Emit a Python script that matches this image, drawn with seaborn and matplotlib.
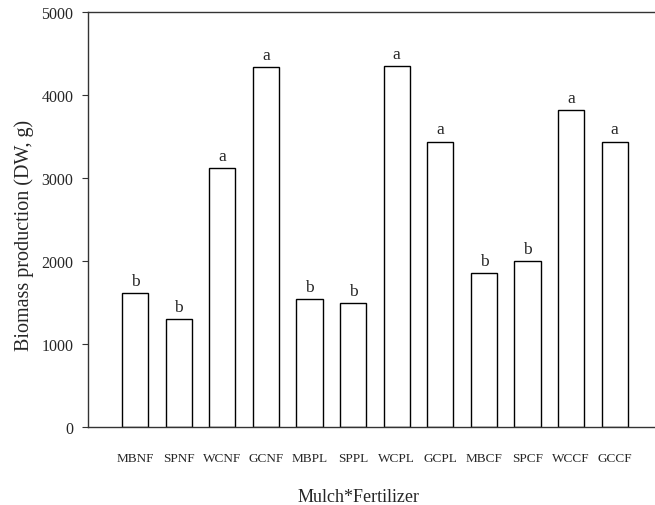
import matplotlib
matplotlib.use("Agg")
import matplotlib.pyplot as plt
import seaborn as sns
import pandas as pd

categories = ["MBNF", "SPNF", "WCNF", "GCNF", "MBPL", "SPPL", "WCPL", "GCPL",
              "MBCF", "SPCF", "WCCF", "GCCF"]
biomass = [1614, 1301, 3124, 4333, 1542, 1490, 4349, 3438, 1851, 2004, 3819, 3438]
letters = ["b", "b", "a", "a", "b", "b", "a", "a", "b", "b", "a", "a"]
yticks = [0, 1000, 2000, 3000, 4000, 5000]

sns.set_style("ticks")
plt.rcParams["font.family"] = ["Liberation Serif", "DejaVu Serif"]

df = pd.DataFrame({"cat": categories, "val": biomass})

fig = plt.figure(figsize=(6.55, 5.06), dpi=100)
ax = fig.add_axes([88 / 655, 1 - 428 / 506, 1 - 88 / 655, (428 - 13) / 506])

sns.barplot(data=df, x="cat", y="val", color="white", edgecolor="black",
            linewidth=1.0, width=0.6, saturation=1, ax=ax)

for i, (v, t) in enumerate(zip(biomass, letters)):
    ax.annotate(t, (i, v), xytext=(0, 3), textcoords="offset points",
                ha="center", va="bottom", fontsize=12.5)

ax.set_xlim(-1.078, 11.924)
ax.set_ylim(0, 5000)
ax.set_yticks(yticks)
ax.set_yticklabels([str(t) for t in yticks], fontsize=11.5)
ax.tick_params(axis="y", direction="out", length=4.5, width=0.8, pad=6, color="#333333")
ax.tick_params(axis="x", length=0, pad=18, labelsize=9.5)

for s in ["left", "top", "bottom"]:
    ax.spines[s].set_visible(True)
    ax.spines[s].set_linewidth(1.0)
    ax.spines[s].set_color("#333333")
ax.spines["right"].set_visible(False)

ax.set_xlabel("Mulch*Fertilizer", fontsize=13)
ax.set_ylabel("Biomass production (DW, g)", fontsize=14.5)
ax.xaxis.set_label_coords((359 - 88) / 567, -(498 - 428) / 415, transform=ax.transAxes)
ax.yaxis.set_label_coords(-(88 - 24) / 567, (428 - 235) / 415, transform=ax.transAxes)
ax.xaxis.label.set_va("center")
ax.yaxis.label.set_va("center")

fig.savefig("out.png", dpi=100)
